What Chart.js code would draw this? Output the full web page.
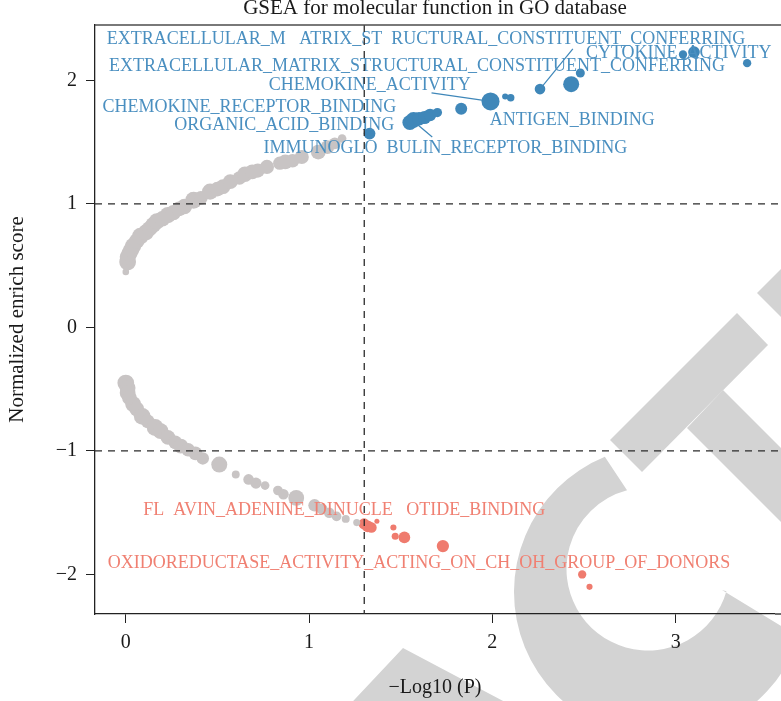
<!DOCTYPE html>
<html>
<head>
<meta charset="utf-8">
<script src="https://cdn.jsdelivr.net/npm/chart.js@4.4.1/dist/chart.umd.min.js"></script>
<style>
  html, body { margin: 0; padding: 0; background: #ffffff; overflow: hidden; }
  canvas { display: block; }
</style>
</head>
<body>
<canvas id="gsea" width="784" height="701"></canvas>
<script>
// ---- GSEA results: -log10(P), normalized enrichment score, gene-set size ----

// not significant, positive NES
const nsUpLogP = [0.00, 0.01, 0.01, 0.02, 0.03, 0.04, 0.06, 0.08, 0.11, 0.13, 0.15, 0.17, 0.20, 0.23, 0.26, 0.29, 0.32, 0.37, 0.41, 0.46, 0.50, 0.53, 0.57, 0.62, 0.65, 0.69, 0.72, 0.77, 0.84, 0.87, 0.91, 0.96, 1.05, 1.10, 1.14, 1.18];
const nsUpNES  = [0.45, 0.53, 0.57, 0.60, 0.63, 0.66, 0.70, 0.74, 0.77, 0.80, 0.83, 0.86, 0.88, 0.91, 0.93, 0.96, 0.98, 1.03, 1.05, 1.10, 1.12, 1.14, 1.18, 1.21, 1.24, 1.26, 1.27, 1.30, 1.33, 1.34, 1.35, 1.38, 1.42, 1.46, 1.49, 1.53];
const nsUpSize = [7, 45, 40, 42, 40, 42, 38, 45, 42, 38, 40, 42, 38, 42, 38, 35, 38, 45, 30, 42, 35, 35, 35, 30, 38, 35, 32, 32, 28, 35, 30, 32, 35, 30, 22, 12];

// not significant, negative NES
const nsDownLogP = [0.00, 0.01, 0.01, 0.02, 0.04, 0.06, 0.09, 0.12, 0.16, 0.19, 0.23, 0.27, 0.30, 0.34, 0.38, 0.42, 0.51, 0.60, 0.67, 0.71, 0.76, 0.83, 0.86, 0.93, 1.03, 1.07, 1.11, 1.15, 1.20, 1.26];
const nsDownNES  = [-0.45, -0.49, -0.53, -0.57, -0.62, -0.66, -0.72, -0.76, -0.81, -0.84, -0.89, -0.93, -0.96, -0.99, -1.02, -1.06, -1.11, -1.19, -1.23, -1.26, -1.28, -1.32, -1.35, -1.38, -1.44, -1.47, -1.50, -1.53, -1.55, -1.58];
const nsDownSize = [45, 40, 40, 35, 40, 35, 45, 30, 45, 40, 35, 30, 35, 30, 30, 25, 41, 10, 18, 20, 12, 15, 18, 40, 25, 20, 18, 15, 10, 8];

// significant, positive NES
const upLogP = [1.33, 1.55, 1.57, 1.60, 1.63, 1.66, 1.70, 1.83, 1.99, 2.07, 2.10, 2.26, 2.43, 2.48, 3.04, 3.10, 3.39];
const upNES  = [1.57, 1.66, 1.68, 1.69, 1.70, 1.72, 1.74, 1.77, 1.83, 1.87, 1.86, 1.93, 1.97, 2.06, 2.21, 2.23, 2.14];
const upSize = [22, 36, 40, 30, 28, 25, 14, 23, 52, 6, 9, 18, 41, 13, 11, 22, 11];

// significant, negative NES
const downLogP = [1.30, 1.32, 1.34, 1.37, 1.46, 1.47, 1.52, 1.73, 2.49, 2.53];
const downNES  = [-1.59, -1.61, -1.62, -1.57, -1.62, -1.69, -1.70, -1.77, -2.00, -2.10];
const downSize = [20, 22, 18, 4, 6, 8, 22, 24, 11, 6];

// axis ticks
const xTicks = [0, 1, 2, 3];
const yTicks = [-2, -1, 0, 1, 2];

// thresholds
const pCut = -Math.log10(0.05);
const nesCuts = [1, -1];

// term labels (anchored at data coordinates)
const termText = [
  'EXTRACELLULAR_M   ATRIX_ST  RUCTURAL_CONSTITUENT_CONFERRING',
  'EXTRACELLULAR_MATRIX_STRUCTURAL_CONSTITUENT_CONFERRING',
  'CYTOKINE_ACTIVITY',
  'CHEMOKINE_ACTIVITY',
  'CHEMOKINE_RECEPTOR_BINDING',
  'ORGANIC_ACID_BINDING',
  'ANTIGEN_BINDING',
  'IMMUNOGLO  BULIN_RECEPTOR_BINDING',
  'FL  AVIN_ADENINE_DINUCLE   OTIDE_BINDING',
  'OXIDOREDUCTASE_ACTIVITY_ACTING_ON_CH_OH_GROUP_OF_DONORS'
];
const termLogP = [1.638, 1.589, 3.017, 1.331, 0.674, 0.864, 2.436, 1.744, 1.192, 1.600];
const termNES  = [2.332, 2.113, 2.224, 1.960, 1.781, 1.636, 1.674, 1.453, -1.484, -1.909];
const termUp   = [true, true, true, true, true, true, true, true, false, false];

// leader segments: [fromLogP, fromNES, toLogP, toNES]
const leaders = [
  [2.439, 2.255, 2.26, 1.93],
  [1.668, 1.899, 1.99, 1.83],
  [1.57, 1.67, 1.672, 1.542]
];

const X_MIN = -0.168, X_MAX = 3.542;
const Y_MIN = -2.320, Y_MAX = 2.449;

const SERIF = '"Liberation Serif", "Times New Roman", serif';
const GREY = '#c8c4c4';
const BLUE = '#3f87b9';
const BLUE_TEXT = '#4a8fc0';
const RED = '#ef7b6e';
const RED_TEXT = '#f08072';
const INK = '#1a1a1a';

const toPoints = (xs, ys) => xs.map((x, i) => ({ x: x, y: ys[i] }));
const radiusFrom = sizes => ctx => 1.25 * Math.sqrt(sizes[ctx.dataIndex]);

function pointSet(label, xs, ys, sizes, color) {
  return {
    label: label,
    data: toPoints(xs, ys),
    backgroundColor: color,
    borderWidth: 0,
    pointRadius: radiusFrom(sizes),
    pointHoverRadius: radiusFrom(sizes)
  };
}

// light grey lettering behind the plot
const backdropPlugin = {
  id: 'backdrop',
  beforeDraw(chart) {
    const ctx = chart.ctx;
    const rad = d => d * Math.PI / 180;
    const poly = pts => {
      ctx.beginPath();
      ctx.moveTo(pts[0][0], pts[0][1]);
      for (let i = 1; i < pts.length; i++) ctx.lineTo(pts[i][0], pts[i][1]);
      ctx.closePath();
      ctx.fill();
    };
    ctx.save();
    ctx.fillStyle = '#d3d3d3';
    ctx.beginPath();
    ctx.arc(660, 592, 146, rad(247.8), rad(17.9), true);
    ctx.lineTo(722, 590);
    ctx.arc(648, 569, 81.5, rad(15.8), rad(255.1), false);
    ctx.closePath();
    ctx.fill();
    poly([[610, 440], [642, 472], [768, 345], [737, 313]]);
    poly([[687, 428], [723, 390], [873, 540], [837, 578]]);
    poly([[757, 293], [820, 230], [820, 356]]);
    poly([[403, 648], [340, 715], [530, 715], [505, 702]]);
    ctx.restore();
  }
};

// leader lines under the points
const leaderPlugin = {
  id: 'leaders',
  beforeDatasetsDraw(chart) {
    const { ctx, scales: { x, y } } = chart;
    ctx.save();
    ctx.strokeStyle = BLUE;
    ctx.lineWidth = 1.2;
    leaders.forEach(s => {
      ctx.beginPath();
      ctx.moveTo(x.getPixelForValue(s[0]), y.getPixelForValue(s[1]));
      ctx.lineTo(x.getPixelForValue(s[2]), y.getPixelForValue(s[3]));
      ctx.stroke();
    });
    ctx.restore();
  }
};

// term names, then the threshold lines on top; the panel runs on past the right edge
const overlayPlugin = {
  id: 'overlay',
  afterDatasetsDraw(chart) {
    const { ctx, chartArea: a, scales: { x, y } } = chart;
    ctx.save();
    ctx.font = '18px ' + SERIF;
    ctx.textAlign = 'center';
    ctx.textBaseline = 'middle';
    termText.forEach((t, i) => {
      ctx.fillStyle = termUp[i] ? BLUE_TEXT : RED_TEXT;
      ctx.fillText(t, x.getPixelForValue(termLogP[i]), y.getPixelForValue(termNES[i]));
    });

    ctx.strokeStyle = '#2b2b2b';
    ctx.lineWidth = 1.3;
    ctx.setLineDash([7, 6]);
    nesCuts.forEach(v => {
      const py = y.getPixelForValue(v);
      ctx.beginPath();
      ctx.moveTo(a.left, py);
      ctx.lineTo(chart.width, py);
      ctx.stroke();
    });
    const px = x.getPixelForValue(pCut);
    ctx.beginPath();
    ctx.moveTo(px, a.top);
    ctx.lineTo(px, a.bottom);
    ctx.stroke();
    ctx.restore();
  },
  afterDraw(chart) {
    const { ctx, chartArea: a } = chart;
    ctx.save();
    ctx.strokeStyle = '#4d4d4d';
    ctx.lineWidth = 1.6;
    ctx.beginPath();
    ctx.moveTo(a.left, a.top);
    ctx.lineTo(chart.width, a.top);
    ctx.stroke();
    ctx.strokeStyle = '#222';
    ctx.lineWidth = 1.3;
    ctx.beginPath();
    ctx.moveTo(a.right, a.bottom);
    ctx.lineTo(chart.width, a.bottom);
    ctx.stroke();
    ctx.restore();
  }
};

new Chart(document.getElementById('gsea'), {
  type: 'scatter',
  data: {
    datasets: [
      pointSet('not significant (NES > 0)', nsUpLogP, nsUpNES, nsUpSize, GREY),
      pointSet('not significant (NES < 0)', nsDownLogP, nsDownNES, nsDownSize, GREY),
      pointSet('enriched', upLogP, upNES, upSize, BLUE),
      pointSet('depleted', downLogP, downNES, downSize, RED)
    ]
  },
  options: {
    responsive: false,
    devicePixelRatio: 1,
    animation: false,
    events: [],
    layout: { padding: { left: 0, right: 2, top: 0, bottom: 0 } },
    plugins: {
      legend: { display: false },
      tooltip: { enabled: false },
      title: {
        display: true,
        text: 'GSEA for molecular function in GO database',
        fullSize: false,
        color: INK,
        font: { family: SERIF, size: 21, weight: 'normal', lineHeight: 0.85 },
        padding: { top: 0, bottom: 7.15 }
      }
    },
    scales: {
      x: {
        type: 'linear',
        min: X_MIN,
        max: X_MAX,
        afterBuildTicks: s => { s.ticks = xTicks.map(v => ({ value: v })); },
        afterFit: s => { s.height = 87; },
        grid: { display: true, drawOnChartArea: false, drawTicks: true, tickLength: 9, color: '#222', lineWidth: 1 },
        border: { display: true, color: '#222', width: 1.3 },
        ticks: { color: INK, font: { family: SERIF, size: 20 }, padding: 8, maxRotation: 0, autoSkip: false },
        title: {
          display: true,
          text: '\u2212Log10 (P)',
          color: INK,
          font: { family: SERIF, size: 20 },
          padding: { top: 0, bottom: 1 }
        }
      },
      y: {
        type: 'linear',
        min: Y_MIN,
        max: Y_MAX,
        afterBuildTicks: s => { s.ticks = yTicks.map(v => ({ value: v })); },
        afterFit: s => { s.width = 95; },
        grid: { display: true, drawOnChartArea: false, drawTicks: true, tickLength: 9, color: '#222', lineWidth: 1 },
        border: { display: true, color: '#222', width: 1.3 },
        ticks: {
          color: INK,
          font: { family: SERIF, size: 20 },
          padding: 9,
          autoSkip: false,
          callback: v => (v < 0 ? '\u2212' + Math.abs(v) : String(v))
        },
        title: {
          display: true,
          text: 'Normalized enrich score',
          color: INK,
          font: { family: SERIF, size: 21 },
          padding: { top: 5, bottom: 0 }
        }
      }
    }
  },
  plugins: [backdropPlugin, leaderPlugin, overlayPlugin]
});
</script>
</body>
</html>
